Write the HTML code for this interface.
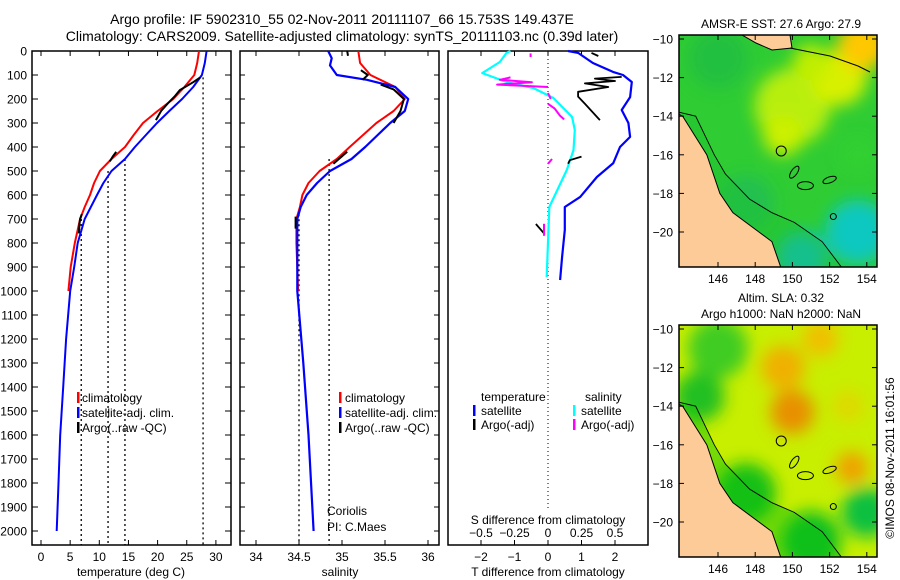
<!DOCTYPE html>
<html><head><meta charset="utf-8">
<style>
html,body{margin:0;padding:0;background:#fff;}
svg{display:block;font-family:"Liberation Sans",sans-serif;}
</style></head>
<body>
<svg id="c" width="900" height="580" viewBox="0 0 900 580" xmlns="http://www.w3.org/2000/svg">
<defs>
<filter id="bl" x="-50%" y="-50%" width="200%" height="200%"><feGaussianBlur stdDeviation="8"/></filter>
<clipPath id="m1c"><rect x="679" y="35" width="198" height="232"/></clipPath>
<clipPath id="m2c"><rect x="679" y="325" width="198" height="232"/></clipPath>
</defs>
<text x="342" y="24" font-size="14" text-anchor="middle">Argo profile: IF 5902310_55 02-Nov-2011 20111107_66 15.753S 149.437E</text>
<text x="342" y="41" font-size="14" text-anchor="middle">Climatology: CARS2009. Satellite-adjusted climatology: synTS_20111103.nc (0.39d later)</text>
<g id="g"></g>
</svg>
<script>
// ---- data: temperature (depth m, deg C)
const tClimDepth=[0,50,100,150,200,250,300,350,400,450,500,550,600,650,700,800,900,1000];
const tClimVal=[27.1,26.8,26.3,24.6,22.7,20.0,17.5,15.9,14.4,12.1,10.1,9.1,8.4,7.5,6.7,5.8,5.1,4.7];
const tSatDepth=[0,50,100,150,200,250,300,350,400,450,500,550,600,700,800,900,1000,1200,1400,1600,1800,2000];
const tSatVal=[28.4,28.1,27.6,26.1,24.2,22.0,19.9,18.0,16.1,14.4,12.1,10.7,9.6,7.5,6.3,5.7,5.0,4.3,3.8,3.3,3.0,2.7];
const tArgoSegDepth=[[110,130,163,190,217,250,288],[420,440,460],[680,700,720,760]];
const tArgoSegVal=[[27.3,26.1,23.8,22.9,21.8,20.6,19.7],[12.9,12.3,11.8],[7.0,6.7,6.6,6.5]];
const tDotVal=[6.9,11.5,14.4,27.8];
const tDotStart=[700,500,450,110];
// salinity
const sClimDepth=[0,50,100,150,200,250,300,400,450,500,550,600,650,700,800,900,1000];
const sClimVal=[35.19,35.21,35.33,35.62,35.73,35.60,35.40,35.09,34.94,34.74,34.61,34.54,34.51,34.47,34.47,34.48,34.49];
const sSatDepth=[0,30,60,100,120,150,200,250,300,400,450,500,550,600,650,700,1000,1300,1600,2000];
const sSatVal=[34.84,34.88,34.86,34.94,35.29,35.62,35.77,35.73,35.56,35.27,35.11,34.86,34.71,34.59,34.52,34.48,34.48,34.55,34.61,34.67];
const sArgoSegDepth=[[0,20],[80,100,120],[140,160,200,250,300],[420,445,470],[690,740]];
const sArgoSegVal=[[35.06,35.07],[35.22,35.30,35.24],[35.45,35.60,35.72,35.68,35.60],[35.06,34.98,34.90],[34.46,34.46]];
const sDotVal=[34.5,34.85];
const sDotStart=[680,450];
// differences
const dTSatDepth=[0,8,50,87,100,129,192,246,300,358,400,467,525,608,650,746,858,954];
const dTSatVal=[0.6,0.9,1.34,1.94,2.24,2.5,2.45,2.2,2.4,2.45,2.15,1.95,1.46,0.96,0.5,0.5,0.42,0.36];
const dSSatDepth=[0,8,46,92,129,154,196,275,329,413,496,650,942];
const dSSatVal=[-0.28,-0.31,-0.36,-0.49,-0.31,-0.11,0.04,0.18,0.2,0.19,0.14,0.01,-0.01];
const dTArgoSegDepth=[[8,21],[108,115,125,135,150,170,190,220,288],[470,455,440],[721,763]];
const dTArgoSegVal=[[1.3,1.5],[2.2,1.4,2.0,1.1,1.8,0.9,0.9,1.1,1.55],[0.6,0.65,1.0],[-0.36,-0.1]];
const dSArgoSegDepth=[[10,25],[110,120,130,140,150],[175,200],[220,240,270,285],[450,470],[720,770]];
const dSArgoSegVal=[[-0.13,-0.13],[-0.28,-0.36,-0.12,-0.38,0.0],[0.0,0.02],[0.0,0.05,0.09,0.12],[0.03,0.0],[-0.03,-0.03]];
const depthTicks=[0,100,200,300,400,500,600,700,800,900,1000,1100,1200,1300,1400,1500,1600,1700,1800,1900,2000];
const tTicks=[0,5,10,15,20,25,30];
const sTicks=[34,34.5,35,35.5,36];
const dTTicks=[-2,-1,0,1,2];
const dSTicks=[-0.5,-0.25,0,0.25,0.5];
const dSTickLabels=["\u22120.5","\u22120.25","0","0.25","0.5"];
const dTTickLabels=["\u22122","\u22121","0","1","2"];
const lonTicks=[146,148,150,152,154];
const lat1Ticks=[-10,-12,-14,-16,-18,-20];
const lat2Ticks=[-10,-12,-14,-16,-18,-20];

const NS="http://www.w3.org/2000/svg";
const G=document.getElementById('g');
function el(tag,attrs,parent){const e=document.createElementNS(NS,tag);for(const k in attrs)e.setAttribute(k,attrs[k]);(parent||G).appendChild(e);return e;}
function txt(x,y,s,anchor,size,name){const t=el('text',{x:x,y:y,'font-size':size||12,'text-anchor':anchor||'start'});t.textContent=s;


return t;}
const Y=d=>51+0.24*d;
const xT=v=>41+5.83*v, xS=v=>256+86*(v-34), xDT=v=>548+33.5*v, xDS=v=>548+134*v;
function line(xs,ds,fx,color,w,name){const p=ds.map((d,i)=>fx(xs[i]).toFixed(1)+','+Y(d).toFixed(1)).join(' ');
const l=el('polyline',{points:p,fill:'none',stroke:color,'stroke-width':w,'stroke-linejoin':'round'});

}
function frame(x0,x1,name){const r=el('rect',{x:x0,y:51,width:x1-x0,height:494,fill:'none',stroke:'#000','stroke-width':1.5});

}
function dotted(x,d0){const l=el('line',{x1:x,y1:Y(d0),x2:x,y2:Y(2058),stroke:'#000','stroke-width':1.3,'stroke-dasharray':'2,3'});

}
function xticks(vals,fx,y,len){vals.forEach(v=>{el('line',{x1:fx(v),y1:545,x2:fx(v),y2:545-len,stroke:'#000'});el('line',{x1:fx(v),y1:51,x2:fx(v),y2:51+len,stroke:'#000'});});}
function legendMark(x,y,c){const r=el('rect',{x:x,y:y-10,width:2.5,height:11,fill:c});

}

// panel 1 temperature
frame(32,231,'temperature-panel');
depthTicks.forEach(d=>{el('line',{x1:32,y1:Y(d),x2:38,y2:Y(d),stroke:'#000'});el('line',{x1:231,y1:Y(d),x2:225,y2:Y(d),stroke:'#000'});
txt(27,Y(d)+4.5,String(d),'end',12,'depth-tick-label');});
xticks(tTicks,xT,0,5);
tTicks.forEach(v=>txt(xT(v),561,String(v),'middle',12,'temperature-tick-label'));
txt(131,576,'temperature (deg C)','middle',12,'temperature-axis-title');
tDotVal.forEach((v,i)=>dotted(xT(v),tDotStart[i]));
line(tClimVal,tClimDepth,xT,'#f00',2,'temperature-climatology-line');
line(tSatVal,tSatDepth,xT,'#00f',2,'temperature-satellite-line');
tArgoSegDepth.forEach((ds,i)=>line(tArgoSegVal[i],ds,xT,'#000',2,'temperature-argo-line'));
legendMark(77,402,'#f00');txt(82,402,'climatology','start',12,'legend-climatology');
legendMark(77,417,'#00f');txt(82,417,'satellite-adj. clim.','start',12,'legend-satellite');
legendMark(77,432,'#000');txt(82,432,'Argo(..raw -QC)','start',12,'legend-argo');

// panel 2 salinity
frame(240,439,'salinity-panel');
depthTicks.forEach(d=>{el('line',{x1:240,y1:Y(d),x2:245,y2:Y(d),stroke:'#000'});el('line',{x1:439,y1:Y(d),x2:434,y2:Y(d),stroke:'#000'});});
xticks(sTicks,xS,0,5);
sTicks.forEach(v=>txt(xS(v),561,String(v),'middle',12,'salinity-tick-label'));
txt(340,576,'salinity','middle',12,'salinity-axis-title');
sDotVal.forEach((v,i)=>dotted(xS(v),sDotStart[i]));
line(sClimVal,sClimDepth,xS,'#f00',2,'salinity-climatology-line');
line(sSatVal,sSatDepth,xS,'#00f',2.2,'salinity-satellite-line');
sArgoSegDepth.forEach((ds,i)=>line(sArgoSegVal[i],ds,xS,'#000',2,'salinity-argo-line'));
legendMark(339,402,'#f00');txt(345,402,'climatology','start',12,'legend-climatology');
legendMark(339,417,'#00f');txt(345,417,'satellite-adj. clim.','start',12,'legend-satellite');
legendMark(339,432,'#000');txt(345,432,'Argo(..raw -QC)','start',12,'legend-argo');
txt(327,515,'Coriolis','start',12,'data-centre-label');
txt(327,531,'PI: C.Maes','start',12,'pi-label');

// panel 3 differences
frame(448,648,'difference-panel');
dTTicks.forEach(v=>{el('line',{x1:xDT(v),y1:545,x2:xDT(v),y2:540,stroke:'#000'});el('line',{x1:xDT(v),y1:51,x2:xDT(v),y2:56,stroke:'#000'});});
dTTicks.forEach((v,i)=>txt(xDT(v),561,dTTickLabels[i],'middle',12,'t-difference-tick-label'));
txt(548,576,'T difference from climatology','middle',12,'t-difference-axis-title');
dSTicks.forEach((v,i)=>txt(xDS(v),537,dSTickLabels[i],'middle',12,'s-difference-tick-label'));
txt(548,524,'S difference from climatology','middle',12,'s-difference-axis-title');
{const l=el('line',{x1:548,y1:55,x2:548,y2:510,stroke:'#000','stroke-dasharray':'1,3'});

}
line(dSSatVal,dSSatDepth,xDS,'#0ff',2.2,'salinity-difference-satellite-line');
line(dTSatVal,dTSatDepth,xDT,'#00f',2.2,'temperature-difference-satellite-line');
dTArgoSegDepth.forEach((ds,i)=>line(dTArgoSegVal[i],ds,xDT,'#000',1.8,'temperature-difference-argo-line'));
dSArgoSegDepth.forEach((ds,i)=>line(dSArgoSegVal[i],ds,xDS,'#f0f',2,'salinity-difference-argo-line'));
txt(481,401,'temperature','start',12,'legend-temperature-heading');
txt(585,401,'salinity','start',12,'legend-salinity-heading');
legendMark(473,415,'#00f');txt(481,415,'satellite','start',12,'legend-t-satellite');
legendMark(473,429,'#000');txt(481,429,'Argo(-adj)','start',12,'legend-t-argo');
legendMark(573,415,'#0ff');txt(581,415,'satellite','start',12,'legend-s-satellite');
legendMark(573,429,'#f0f');txt(581,429,'Argo(-adj)','start',12,'legend-s-argo');

// maps
const LX=v=>718+(v-146)*18.6;
function map(top,clip,kind,titleLines,latTicks,name){
 const LY=v=>top+4+(-10-v)*19.3;
 const g=el('g',{'clip-path':'url(#'+clip+')'});
 
 
 if(kind==='sst'){
  el('rect',{x:679,y:top,width:198,height:232,fill:'#2fcc33'},g);
  const b=el('g',{filter:'url(#bl)'},g);
  [[150,-13.5,38,'#b8ee10'],[149.5,-15,20,'#ccf000'],[152.5,-12,28,'#d8f000'],[153.8,-10.3,25,'#ffc800'],[151,-11.2,18,'#c0ee00'],[146,-11,30,'#22c040'],[153.5,-20,32,'#10c8c0'],[150.5,-21.3,25,'#10bfd8'],[153.5,-16,18,'#30d030'],[147.5,-18.5,28,'#20c050']].forEach(p=>el('circle',{cx:LX(p[0]),cy:LY(p[1]),r:p[2],fill:p[3]},b));
 } else {
  el('rect',{x:679,y:top,width:198,height:232,fill:'#c8ee00'},g);
  const b=el('g',{filter:'url(#bl)'},g);
  [[146,-11,30,'#40cc20'],[145,-13.5,25,'#20c020'],[150,-14.3,22,'#e89000'],[149.5,-12,22,'#f0b000'],[153.2,-17.2,16,'#f0a000'],[151.5,-10.5,18,'#f0c000'],[154,-19.5,25,'#10c040'],[151,-21,30,'#10c020'],[147.5,-18.5,30,'#18c018'],[153,-14,15,'#e0d800']].forEach(p=>el('circle',{cx:LX(p[0]),cy:LY(p[1]),r:p[2],fill:p[3]},b));
 }
 const shelf=[[143.5,-13.7],[144.8,-14],[145.8,-16],[146.4,-17],[147.7,-18.3],[148.9,-19],[150.1,-19.5],[151.6,-20.5],[152.7,-21.9],[143.5,-21.9]];
 el('polygon',{points:shelf.map(p=>LX(p[0])+','+LY(p[1])).join(' '),fill:kind==='sst'?'#20c030':'#10c010',opacity:0.45},g);
 const coast=[[143.5,-13.7],[144.1,-14],[145.4,-16],[146.1,-18],[146.8,-19],[148.2,-20],[148.9,-20.5],[149.4,-21.9],[143.5,-21.9]];
 const land=el('polygon',{points:coast.map(p=>LX(p[0])+','+LY(p[1])).join(' '),fill:'#fccb98',stroke:'#000','stroke-width':1},g);
 
 
 el('polyline',{points:shelf.slice(0,9).map(p=>LX(p[0])+','+LY(p[1])).join(' '),fill:'none',stroke:'#000','stroke-width':0.9},g);
 if(kind==='sst'){el('polygon',{points:'742,35 790,35 792,48 772,50 756,43',fill:'#fccb98',stroke:'#000'},g);
  el('polyline',{points:'790,48 830,56 858,66 870,72',fill:'none',stroke:'#000'},g);}
 el('circle',{cx:LX(149.4),cy:LY(-15.8),r:5,fill:'none',stroke:'#000'},g);
 el('ellipse',{cx:LX(150.1),cy:LY(-16.9),rx:3,ry:7,fill:'none',stroke:'#000',transform:'rotate(35 '+LX(150.1)+' '+LY(-16.9)+')'},g);
 el('ellipse',{cx:LX(150.7),cy:LY(-17.6),rx:8,ry:4,fill:'none',stroke:'#000'},g);
 el('ellipse',{cx:LX(152),cy:LY(-17.3),rx:7,ry:3,fill:'none',stroke:'#000',transform:'rotate(-20 '+LX(152)+' '+LY(-17.3)+')'},g);
 el('circle',{cx:LX(152.2),cy:LY(-19.2),r:3,fill:'none',stroke:'#000'},g);
 const fr=el('rect',{x:679,y:top,width:198,height:232,fill:'none',stroke:'#000','stroke-width':1.5});
 
 
 latTicks.forEach(v=>{el('line',{x1:679,y1:LY(v),x2:684,y2:LY(v),stroke:'#000'});el('line',{x1:877,y1:LY(v),x2:872,y2:LY(v),stroke:'#000'});
  txt(673,LY(v)+4.5,v<0?'\u2212'+(-v):String(v),'end',12,'latitude-tick-label');});
 lonTicks.forEach(v=>{el('line',{x1:LX(v),y1:top+232,x2:LX(v),y2:top+227,stroke:'#000'});el('line',{x1:LX(v),y1:top,x2:LX(v),y2:top+5,stroke:'#000'});
  txt(LX(v),top+248,String(v),'middle',12,'longitude-tick-label');});
 titleLines.forEach((s,i)=>txt(781,top-(titleLines.length-1-i)*16-7,s,'middle',12,'map-title'));
}
map(35,'m1c','sst',['AMSR-E SST: 27.6 Argo: 27.9'],lat1Ticks,'sst-map');
map(325,'m2c','sla',['Altim. SLA: 0.32','Argo h1000: NaN h2000: NaN'],lat2Ticks,'sla-map');
{const t=txt(0,0,'\u00a9IMOS 08-Nov-2011 16:01:56','middle',12,'copyright-timestamp');
t.setAttribute('transform','translate(894,458) rotate(-90)');}
</script>
</body></html>
